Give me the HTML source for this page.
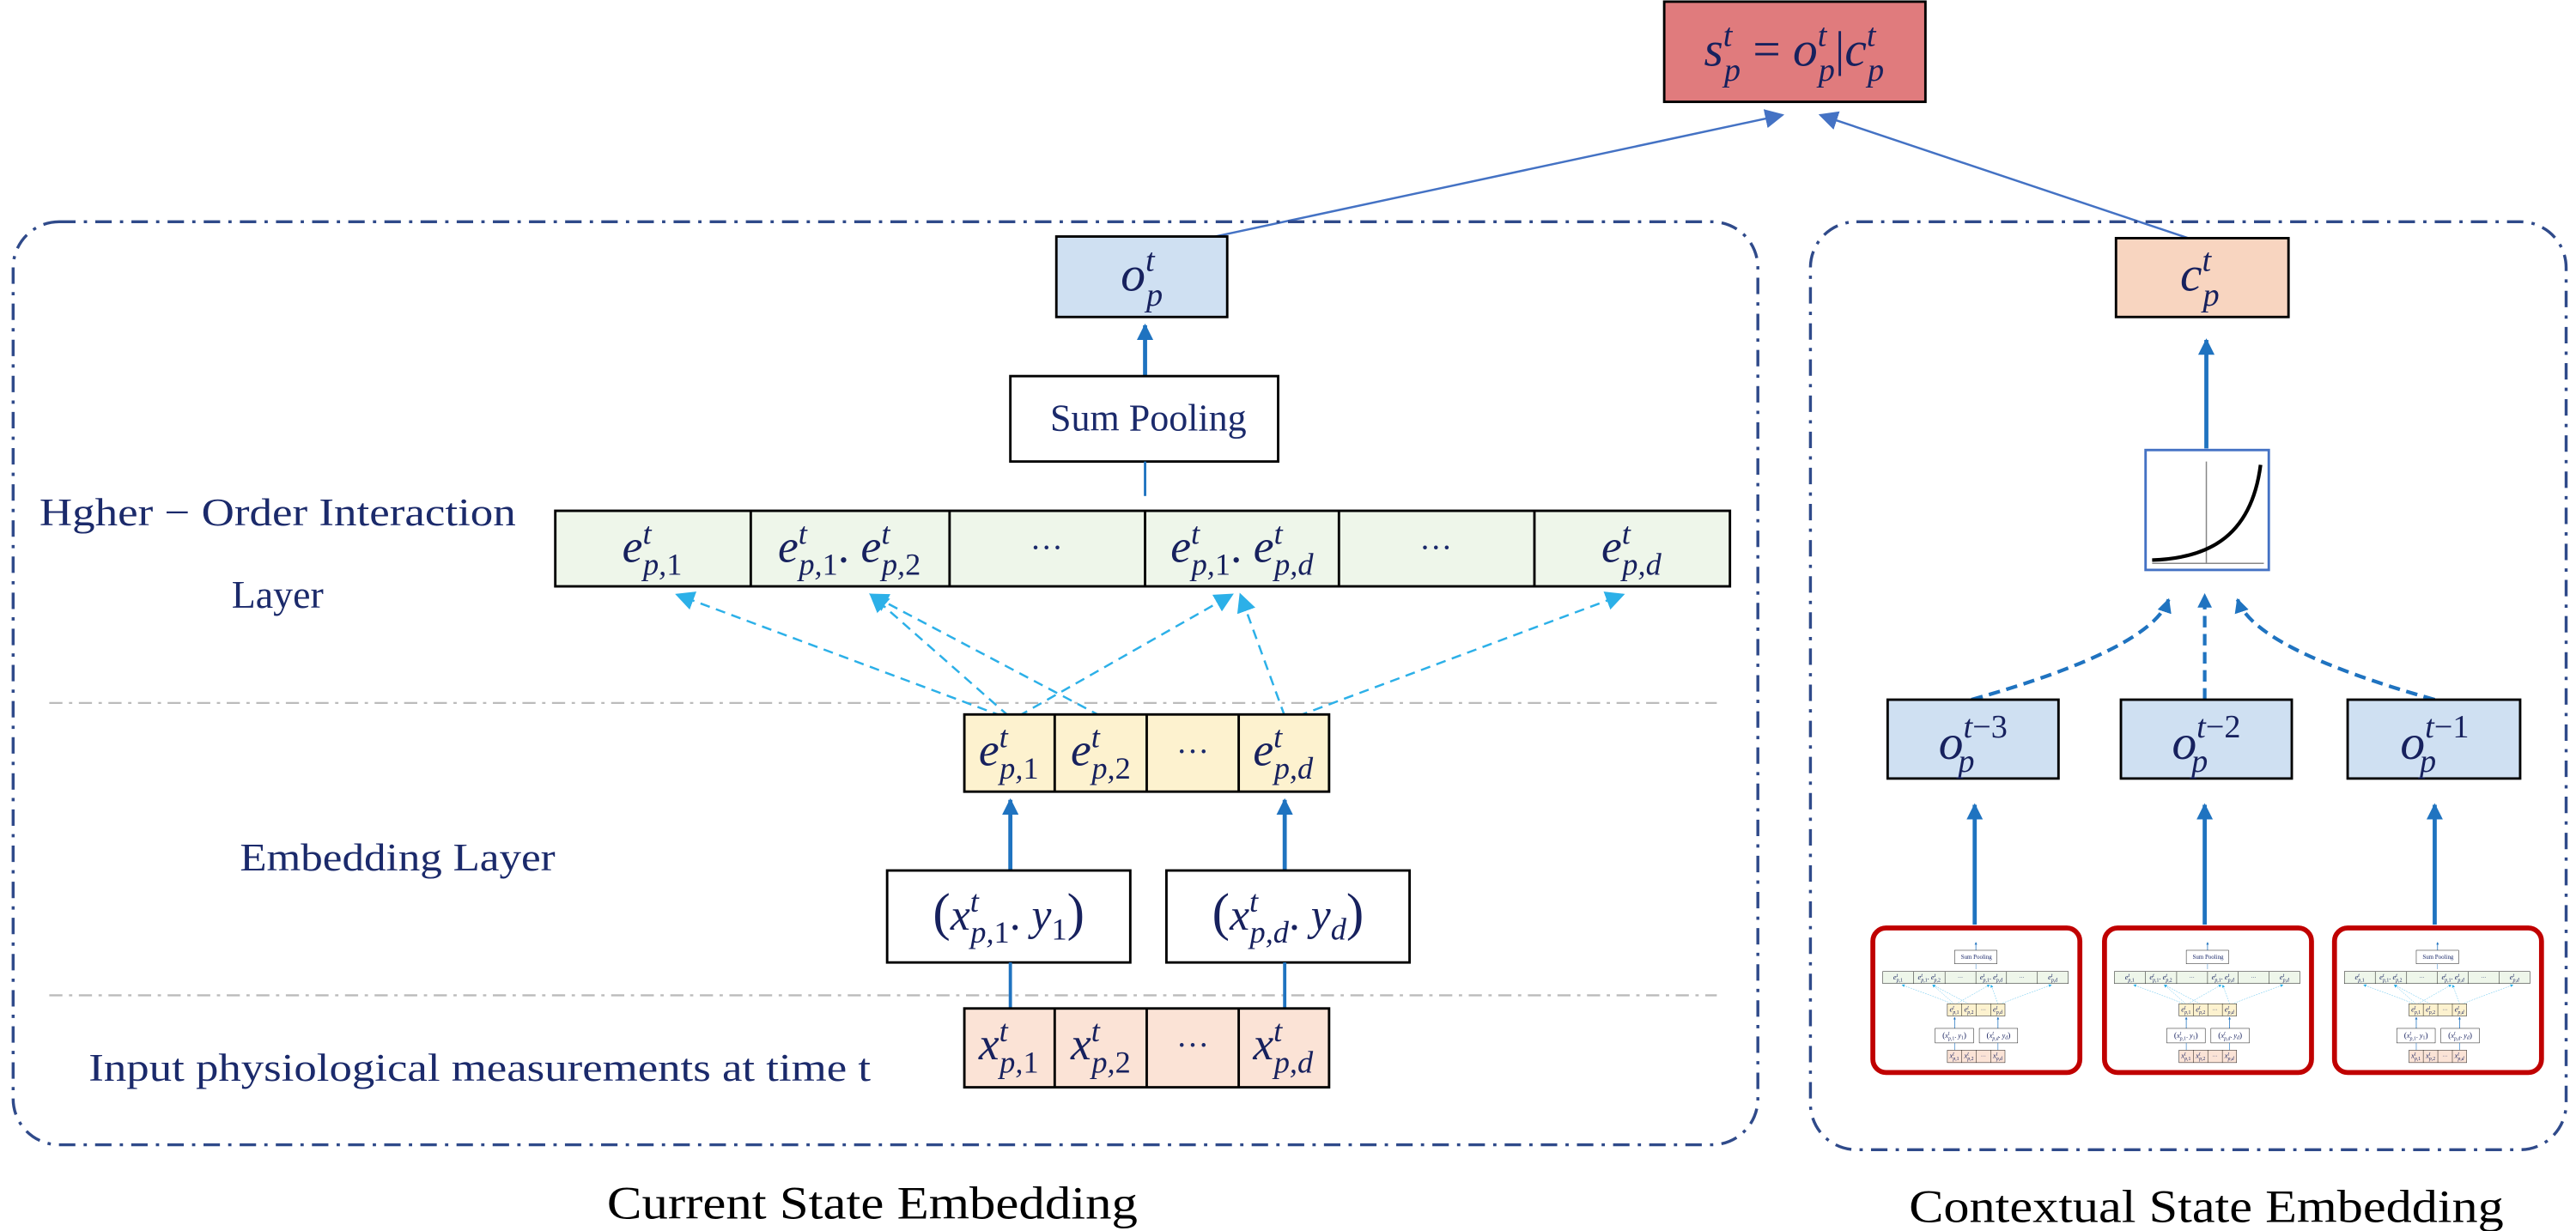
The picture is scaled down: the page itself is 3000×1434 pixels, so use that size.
<!DOCTYPE html>
<html><head><meta charset="utf-8"><style>
html,body{margin:0;padding:0;background:#fff;}
svg{display:block;}
.m{font-family:"Liberation Serif",serif;font-style:italic;fill:#17215e;}
.lb{font-family:"Liberation Serif",serif;fill:#1b2a6b;}
.n{font-style:normal;}
</style></head><body>
<svg id="root" width="3000" height="1434" viewBox="0 0 1568 749.5" xmlns="http://www.w3.org/2000/svg">
<defs>
<marker id="ab" viewBox="0 0 10 10" refX="9" refY="5" markerWidth="4" markerHeight="4" orient="auto"><path d="M0,0 L10,5 L0,10 z" fill="#1f73c0"/></marker>
<marker id="ac" viewBox="0 0 10 10" refX="9" refY="5" markerWidth="9" markerHeight="9" orient="auto"><path d="M0,0 L10,5 L0,10 z" fill="#2cb0e8"/></marker>
<marker id="at" viewBox="0 0 10 10" refX="9" refY="5" markerWidth="9" markerHeight="9" orient="auto"><path d="M0,0 L10,5 L0,10 z" fill="#4472c4"/></marker>
</defs>

<g>
<rect x="1013" y="1" width="159" height="61" fill="#e07b7d" stroke="#000" stroke-width="1.5"/>
<text class="m" x="1092" y="40" font-size="30" text-anchor="middle"><tspan>s</tspan><tspan font-size="20" dy="-12">t</tspan><tspan font-size="20" dx="-5" dy="21">p</tspan><tspan dy="-9" class="n"> = </tspan><tspan>o</tspan><tspan font-size="20" dy="-12">t</tspan><tspan font-size="20" dx="-5" dy="21">p</tspan><tspan dy="-9" class="n">|</tspan><tspan>c</tspan><tspan font-size="20" dy="-12">t</tspan><tspan font-size="20" dx="-5" dy="21">p</tspan></text>
</g>
<line x1="735" y1="145" x2="1085" y2="70" stroke="#4472c4" stroke-width="1.3" marker-end="url(#at)"/>
<line x1="1332" y1="145" x2="1108" y2="70" stroke="#4472c4" stroke-width="1.3" marker-end="url(#at)"/>

<rect x="8" y="135" width="1062" height="562" rx="28" fill="none" stroke="#2f4a8a" stroke-width="1.8" stroke-dasharray="10,5,2,5"/>
<rect x="1102" y="135" width="460" height="565" rx="28" fill="none" stroke="#2f4a8a" stroke-width="1.8" stroke-dasharray="10,5,2,5"/>

<g>
<rect x="643" y="144" width="104" height="49" fill="#cfe0f2" stroke="#000" stroke-width="1.5"/>
<text class="m" x="695" y="177" font-size="30" text-anchor="middle"><tspan>o</tspan><tspan font-size="20" dy="-12">t</tspan><tspan font-size="20" dx="-5" dy="21">p</tspan></text>
</g>

<line x1="30" y1="428" x2="1045" y2="428" stroke="#bbb" stroke-width="1.2" stroke-dasharray="8,4,2,4"/>
<line x1="30" y1="606" x2="1045" y2="606" stroke="#bbb" stroke-width="1.2" stroke-dasharray="8,4,2,4"/>

<text class="lb" x="24" y="320" font-size="24" textLength="290" lengthAdjust="spacingAndGlyphs">Hgher − Order Interaction</text>
<text class="lb" x="141" y="370" font-size="24">Layer</text>
<text class="lb" x="146" y="530" font-size="24" textLength="192" lengthAdjust="spacingAndGlyphs">Embedding Layer</text>
<text class="lb" x="54" y="658" font-size="24" textLength="476" lengthAdjust="spacingAndGlyphs">Input physiological measurements at time t</text>
<text class="lb" x="531" y="742" font-size="28" text-anchor="middle" style="fill:#000" textLength="323" lengthAdjust="spacingAndGlyphs">Current State Embedding</text>
<text class="lb" x="1343" y="744" font-size="28" text-anchor="middle" style="fill:#000" textLength="362" lengthAdjust="spacingAndGlyphs">Contextual State Embedding</text>

<g id="core">
<line x1="697" y1="229" x2="697" y2="198" stroke="#1f73c0" stroke-width="2.5" marker-end="url(#ab)"/>
<rect x="615" y="229" width="163" height="52" fill="#fff" stroke="#000" stroke-width="1.5"/>
<text class="lb" x="699" y="262" font-size="23" text-anchor="middle">Sum Pooling</text>
<line x1="697" y1="281" x2="697" y2="302" stroke="#1f73c0" stroke-width="1.5"/>
<g>
<rect x="338" y="311" width="715" height="46" fill="#eef6ea" stroke="#000" stroke-width="1.5"/>
<line x1="457" y1="311" x2="457" y2="357" stroke="#000" stroke-width="1.5"/>
<line x1="578" y1="311" x2="578" y2="357" stroke="#000" stroke-width="1.5"/>
<line x1="697" y1="311" x2="697" y2="357" stroke="#000" stroke-width="1.5"/>
<line x1="815" y1="311" x2="815" y2="357" stroke="#000" stroke-width="1.5"/>
<line x1="934" y1="311" x2="934" y2="357" stroke="#000" stroke-width="1.5"/>
<text class="m" x="397" y="342" font-size="28" text-anchor="middle"><tspan>e</tspan><tspan font-size="19" dy="-11">t</tspan><tspan font-size="19" dx="-5" dy="19">p,<tspan class="n">1</tspan></tspan></text>
<text class="m" x="517" y="342" font-size="28" text-anchor="middle"><tspan>e</tspan><tspan font-size="19" dy="-11">t</tspan><tspan font-size="19" dx="-5" dy="19">p,<tspan class="n">1</tspan></tspan><tspan dy="-8" class="n">. </tspan><tspan>e</tspan><tspan font-size="19" dy="-11">t</tspan><tspan font-size="19" dx="-5" dy="19">p,<tspan class="n">2</tspan></tspan></text>
<text class="lb" x="637" y="340" font-size="20" text-anchor="middle">···</text>
<text class="m" x="756" y="342" font-size="28" text-anchor="middle"><tspan>e</tspan><tspan font-size="19" dy="-11">t</tspan><tspan font-size="19" dx="-5" dy="19">p,<tspan class="n">1</tspan></tspan><tspan dy="-8" class="n">. </tspan><tspan>e</tspan><tspan font-size="19" dy="-11">t</tspan><tspan font-size="19" dx="-5" dy="19">p,d</tspan></text>
<text class="lb" x="874" y="340" font-size="20" text-anchor="middle">···</text>
<text class="m" x="993" y="342" font-size="28" text-anchor="middle"><tspan>e</tspan><tspan font-size="19" dy="-11">t</tspan><tspan font-size="19" dx="-5" dy="19">p,d</tspan></text>
</g>
<g stroke="#2cb0e8" stroke-width="1.3" stroke-dasharray="6,4" fill="none">
<line x1="610" y1="436" x2="412" y2="362" marker-end="url(#ac)"/>
<line x1="614" y1="436" x2="530" y2="362" marker-end="url(#ac)"/>
<line x1="670" y1="436" x2="530" y2="362" marker-end="url(#ac)"/>
<line x1="620" y1="436" x2="750" y2="362" marker-end="url(#ac)"/>
<line x1="782" y1="436" x2="755" y2="362" marker-end="url(#ac)"/>
<line x1="790" y1="436" x2="988" y2="362" marker-end="url(#ac)"/>
</g>
<g>
<rect x="587" y="435" width="222" height="47" fill="#fdf2cf" stroke="#000" stroke-width="1.5"/>
<line x1="642" y1="435" x2="642" y2="482" stroke="#000" stroke-width="1.5"/>
<line x1="698" y1="435" x2="698" y2="482" stroke="#000" stroke-width="1.5"/>
<line x1="754" y1="435" x2="754" y2="482" stroke="#000" stroke-width="1.5"/>
<text class="m" x="614" y="466" font-size="28" text-anchor="middle"><tspan>e</tspan><tspan font-size="19" dy="-11">t</tspan><tspan font-size="19" dx="-5" dy="19">p,<tspan class="n">1</tspan></tspan></text>
<text class="m" x="670" y="466" font-size="28" text-anchor="middle"><tspan>e</tspan><tspan font-size="19" dy="-11">t</tspan><tspan font-size="19" dx="-5" dy="19">p,<tspan class="n">2</tspan></tspan></text>
<text class="lb" x="726" y="464" font-size="20" text-anchor="middle">···</text>
<text class="m" x="781" y="466" font-size="28" text-anchor="middle"><tspan>e</tspan><tspan font-size="19" dy="-11">t</tspan><tspan font-size="19" dx="-5" dy="19">p,d</tspan></text>
</g>
<line x1="615" y1="530" x2="615" y2="487" stroke="#1f73c0" stroke-width="2.5" marker-end="url(#ab)"/>
<line x1="782" y1="530" x2="782" y2="487" stroke="#1f73c0" stroke-width="2.5" marker-end="url(#ab)"/>
<g>
<rect x="540" y="530" width="148" height="56" fill="#fff" stroke="#000" stroke-width="1.5"/>
<rect x="710" y="530" width="148" height="56" fill="#fff" stroke="#000" stroke-width="1.5"/>
<text class="m" x="614" y="566" font-size="27" text-anchor="middle"><tspan class="n" font-size="32">(</tspan><tspan>x</tspan><tspan font-size="19" dy="-11">t</tspan><tspan font-size="19" dx="-5" dy="19">p,<tspan class="n">1</tspan></tspan><tspan dy="-8" class="n">. </tspan><tspan>y</tspan><tspan font-size="19" dy="6" class="n">1</tspan><tspan class="n" font-size="32" dy="-6">)</tspan></text>
<text class="m" x="784" y="566" font-size="27" text-anchor="middle"><tspan class="n" font-size="32">(</tspan><tspan>x</tspan><tspan font-size="19" dy="-11">t</tspan><tspan font-size="19" dx="-5" dy="19">p,d</tspan><tspan dy="-8" class="n">. </tspan><tspan>y</tspan><tspan font-size="19" dy="6">d</tspan><tspan class="n" font-size="32" dy="-6">)</tspan></text>
</g>
<line x1="615" y1="586" x2="615" y2="614" stroke="#1f73c0" stroke-width="2"/>
<line x1="782" y1="586" x2="782" y2="614" stroke="#1f73c0" stroke-width="2"/>
<g>
<rect x="587" y="614" width="222" height="48" fill="#fbe3d6" stroke="#000" stroke-width="1.5"/>
<line x1="642" y1="614" x2="642" y2="662" stroke="#000" stroke-width="1.5"/>
<line x1="698" y1="614" x2="698" y2="662" stroke="#000" stroke-width="1.5"/>
<line x1="754" y1="614" x2="754" y2="662" stroke="#000" stroke-width="1.5"/>
<text class="m" x="614" y="645" font-size="28" text-anchor="middle"><tspan>x</tspan><tspan font-size="19" dy="-11">t</tspan><tspan font-size="19" dx="-5" dy="19">p,<tspan class="n">1</tspan></tspan></text>
<text class="m" x="670" y="645" font-size="28" text-anchor="middle"><tspan>x</tspan><tspan font-size="19" dy="-11">t</tspan><tspan font-size="19" dx="-5" dy="19">p,<tspan class="n">2</tspan></tspan></text>
<text class="lb" x="726" y="643" font-size="20" text-anchor="middle">···</text>
<text class="m" x="781" y="645" font-size="28" text-anchor="middle"><tspan>x</tspan><tspan font-size="19" dy="-11">t</tspan><tspan font-size="19" dx="-5" dy="19">p,d</tspan></text>
</g>
</g>

<g>
<rect x="1288" y="145" width="105" height="48" fill="#f8d5c0" stroke="#000" stroke-width="1.5"/>
<text class="m" x="1339" y="177" font-size="30" text-anchor="middle"><tspan>c</tspan><tspan font-size="20" dy="-12">t</tspan><tspan font-size="20" dx="-5" dy="21">p</tspan></text>
</g>
<line x1="1343" y1="273" x2="1343" y2="207" stroke="#1f73c0" stroke-width="2.5" marker-end="url(#ab)"/>
<g>
<rect x="1306" y="274" width="75" height="73" fill="#fff" stroke="#4472c4" stroke-width="1.5"/>
<line x1="1343" y1="343" x2="1343" y2="281" stroke="#888" stroke-width="0.8"/>
<line x1="1310" y1="343" x2="1378" y2="343" stroke="#888" stroke-width="0.8"/>
<path d="M1310,341 C1340,340 1370,330 1376,283" fill="none" stroke="#000" stroke-width="2.2"/>
</g>
<g stroke="#1f73c0" stroke-width="2.2" stroke-dasharray="7,4" fill="none">
<path d="M1200,426 Q1310,395 1320,365" marker-end="url(#ab)"/>
<line x1="1342" y1="426" x2="1342" y2="362" marker-end="url(#ab)"/>
<path d="M1482,426 Q1372,395 1362,365" marker-end="url(#ab)"/>
</g>
<g>
<rect x="1149" y="426" width="104" height="48" fill="#cfe0f2" stroke="#000" stroke-width="1.5"/>
<text class="m" x="1201" y="462" font-size="30" text-anchor="middle"><tspan>o</tspan><tspan font-size="20" dy="-13">t<tspan class="n">−3</tspan></tspan><tspan font-size="20" dx="-30" dy="21">p</tspan><tspan font-size="20" dx="20"> </tspan></text>
</g>
<g>
<rect x="1291" y="426" width="104" height="48" fill="#cfe0f2" stroke="#000" stroke-width="1.5"/>
<text class="m" x="1343" y="462" font-size="30" text-anchor="middle"><tspan>o</tspan><tspan font-size="20" dy="-13">t<tspan class="n">−2</tspan></tspan><tspan font-size="20" dx="-30" dy="21">p</tspan><tspan font-size="20" dx="20"> </tspan></text>
</g>
<g>
<rect x="1429" y="426" width="105" height="48" fill="#cfe0f2" stroke="#000" stroke-width="1.5"/>
<text class="m" x="1482" y="462" font-size="30" text-anchor="middle"><tspan>o</tspan><tspan font-size="20" dy="-13">t<tspan class="n">−1</tspan></tspan><tspan font-size="20" dx="-30" dy="21">p</tspan><tspan font-size="20" dx="20"> </tspan></text>
</g>
<line x1="1202" y1="563" x2="1202" y2="490" stroke="#1f73c0" stroke-width="2.5" marker-end="url(#ab)"/>
<line x1="1342" y1="563" x2="1342" y2="490" stroke="#1f73c0" stroke-width="2.5" marker-end="url(#ab)"/>
<line x1="1482" y1="563" x2="1482" y2="490" stroke="#1f73c0" stroke-width="2.5" marker-end="url(#ab)"/>
<g id="thumbs"></g>
</svg>
<script>
var svgns="http://www.w3.org/2000/svg";
var core=document.getElementById('core');
var thumbs=document.getElementById('thumbs');
var offs=[0,141,281];
for(var i=0;i<offs.length;i++){
  var r=document.createElementNS(svgns,'rect');
  
  
  r.setAttribute('x',1140+offs[i]);r.setAttribute('y',565);
  r.setAttribute('width',126);r.setAttribute('height',88);
  r.setAttribute('rx',8);r.setAttribute('fill','#fff');
  r.setAttribute('stroke','#c00000');r.setAttribute('stroke-width','3');
  thumbs.appendChild(r);
  var c=core.cloneNode(true);
  c.removeAttribute('id');
  
  
  c.setAttribute('stroke-width','3');
  c.setAttribute('transform','translate('+(1092.6+offs[i])+',542.4) scale(0.158)');
  thumbs.appendChild(c);
}
</script>
</body></html>
